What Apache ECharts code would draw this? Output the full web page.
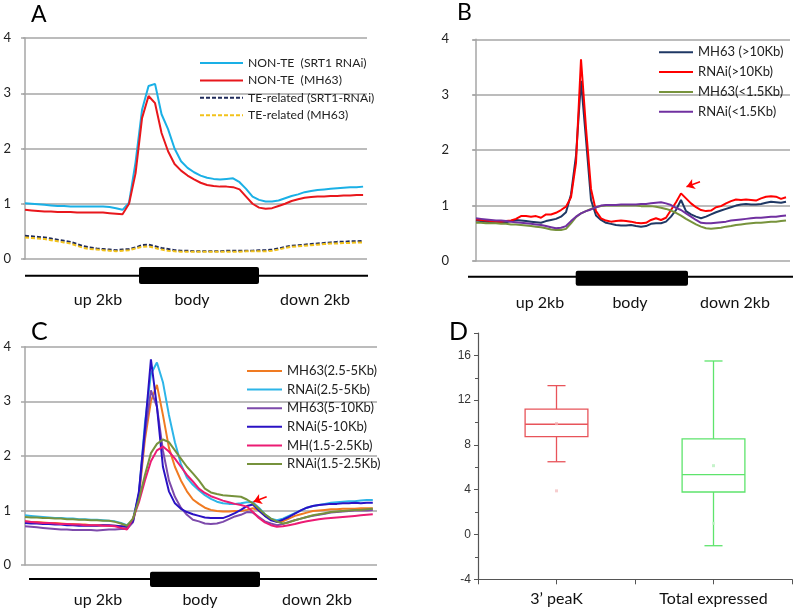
<!DOCTYPE html>
<html><head><meta charset="utf-8">
<script src="https://cdn.jsdelivr.net/npm/echarts@6/dist/echarts.min.js"></script>
<style>html,body{margin:0;padding:0;background:#fff}#c{width:797px;height:612px}</style>
</head><body><div id="c"></div>
<script>
// ---------- Panel A ----------
const namesA = ['NON-TE  (SRT1 RNAi)', 'NON-TE  (MH63)', 'TE-related (SRT1-RNAi)', 'TE-related (MH63)'];
const nonteRnaiA = [1.01,1.00,0.99,0.98,0.97,0.96,0.96,0.95,0.95,0.95,0.95,0.95,0.95,0.94,0.92,0.89,1.02,1.75,2.70,3.13,3.17,2.62,2.35,2.00,1.77,1.65,1.57,1.51,1.47,1.45,1.44,1.45,1.46,1.39,1.27,1.13,1.07,1.04,1.04,1.06,1.10,1.14,1.17,1.21,1.23,1.25,1.26,1.27,1.28,1.29,1.30,1.30,1.31];
const nonteMh63A = [0.89,0.88,0.87,0.86,0.86,0.85,0.85,0.85,0.84,0.84,0.84,0.84,0.84,0.83,0.82,0.81,1.00,1.55,2.55,2.95,2.82,2.28,1.95,1.72,1.60,1.51,1.44,1.38,1.34,1.32,1.31,1.31,1.30,1.26,1.13,1.00,0.93,0.91,0.92,0.96,1.00,1.05,1.08,1.11,1.12,1.13,1.13,1.14,1.14,1.15,1.15,1.16,1.16];
const teRnaiA = [0.42,0.41,0.40,0.39,0.37,0.35,0.33,0.31,0.27,0.23,0.21,0.19,0.18,0.17,0.16,0.17,0.18,0.21,0.25,0.26,0.23,0.20,0.18,0.16,0.15,0.15,0.14,0.14,0.14,0.14,0.14,0.15,0.15,0.15,0.15,0.15,0.16,0.16,0.17,0.19,0.22,0.24,0.25,0.26,0.27,0.28,0.29,0.30,0.31,0.31,0.32,0.32,0.33];
const teMh63A = [0.39,0.38,0.37,0.36,0.34,0.32,0.30,0.28,0.24,0.20,0.18,0.17,0.16,0.15,0.14,0.15,0.16,0.19,0.22,0.23,0.20,0.17,0.15,0.14,0.13,0.13,0.13,0.13,0.13,0.13,0.13,0.13,0.13,0.13,0.14,0.14,0.14,0.14,0.15,0.17,0.20,0.22,0.23,0.24,0.25,0.26,0.27,0.28,0.28,0.29,0.29,0.30,0.30];

// ---------- Panel B ----------
const namesB = ['MH63 (>10Kb)', 'RNAi(>10Kb)', 'MH63(<1.5Kb)', 'RNAi(<1.5Kb)'];
const mh63LongB = [0.73,0.72,0.71,0.70,0.69,0.69,0.70,0.72,0.74,0.73,0.72,0.71,0.70,0.69,0.72,0.74,0.76,0.80,0.88,1.20,1.90,3.25,2.20,1.10,0.82,0.74,0.69,0.67,0.65,0.64,0.64,0.65,0.63,0.62,0.63,0.67,0.68,0.68,0.71,0.80,0.92,1.10,0.90,0.84,0.80,0.77,0.80,0.84,0.88,0.91,0.94,0.97,1.00,1.02,1.03,1.02,1.02,1.03,1.05,1.07,1.06,1.05,1.07];
const rnaiLongB = [0.75,0.74,0.73,0.72,0.71,0.71,0.72,0.73,0.76,0.81,0.81,0.80,0.81,0.78,0.84,0.84,0.87,0.92,0.98,1.15,1.77,3.64,2.40,1.30,0.90,0.77,0.73,0.71,0.72,0.73,0.72,0.71,0.69,0.68,0.69,0.74,0.77,0.74,0.78,0.92,1.06,1.22,1.13,1.04,0.97,0.92,0.90,0.91,0.97,0.99,1.04,1.08,1.11,1.10,1.11,1.10,1.09,1.13,1.16,1.17,1.16,1.12,1.15];
const mh63ShortB = [0.69,0.69,0.68,0.68,0.68,0.67,0.67,0.66,0.66,0.65,0.64,0.63,0.62,0.61,0.59,0.57,0.56,0.56,0.58,0.68,0.79,0.86,0.90,0.94,0.97,0.99,1.00,1.00,1.00,1.00,1.00,1.00,1.00,0.99,0.99,0.99,0.98,0.96,0.94,0.91,0.87,0.82,0.76,0.71,0.66,0.62,0.59,0.58,0.59,0.60,0.62,0.63,0.65,0.66,0.67,0.68,0.69,0.69,0.70,0.71,0.71,0.72,0.73];
const rnaiShortB = [0.77,0.76,0.75,0.74,0.73,0.73,0.72,0.71,0.70,0.69,0.68,0.67,0.66,0.65,0.63,0.61,0.59,0.60,0.63,0.72,0.80,0.86,0.90,0.93,0.97,1.00,1.01,1.01,1.01,1.02,1.02,1.02,1.02,1.03,1.03,1.04,1.05,1.06,1.04,1.01,0.96,0.92,0.86,0.80,0.74,0.69,0.68,0.68,0.69,0.70,0.71,0.73,0.74,0.75,0.76,0.77,0.78,0.78,0.79,0.80,0.80,0.81,0.82];
const arrowB = [[44.8, 1.43], [42.1, 1.34]];

// ---------- Panel C ----------
const namesC = ['MH63(2.5-5Kb)', 'RNAi(2.5-5Kb)', 'MH63(5-10Kb)', 'RNAi(5-10Kb)', 'MH(1.5-2.5Kb)', 'RNAi(1.5-2.5Kb)'];
const mh63MidC = [0.80,0.79,0.79,0.78,0.77,0.77,0.76,0.75,0.75,0.74,0.74,0.73,0.73,0.73,0.72,0.72,0.71,0.70,0.80,1.25,2.30,3.00,3.30,2.75,2.15,1.80,1.55,1.35,1.20,1.12,1.05,1.01,0.99,0.98,0.98,0.99,0.99,1.01,1.04,1.00,0.90,0.84,0.79,0.80,0.85,0.90,0.93,0.96,0.99,1.00,1.01,1.02,1.02,1.03,1.03,1.03,1.04,1.04,1.04];
const rnaiMidC = [0.91,0.90,0.89,0.88,0.87,0.86,0.86,0.85,0.85,0.84,0.84,0.83,0.83,0.82,0.81,0.80,0.77,0.73,0.82,1.30,2.60,3.50,3.71,3.35,2.75,2.25,1.85,1.60,1.47,1.37,1.28,1.21,1.16,1.13,1.12,1.12,1.13,1.15,1.15,1.05,0.93,0.85,0.82,0.85,0.90,0.95,1.00,1.05,1.08,1.10,1.12,1.14,1.15,1.16,1.17,1.17,1.18,1.19,1.19];
const mh63LongC = [0.71,0.70,0.69,0.68,0.67,0.66,0.65,0.65,0.64,0.64,0.64,0.64,0.63,0.64,0.65,0.65,0.66,0.66,0.78,1.30,2.40,3.20,2.90,2.10,1.55,1.25,1.05,0.92,0.83,0.80,0.76,0.75,0.76,0.79,0.84,0.89,0.92,0.97,0.96,0.88,0.80,0.76,0.73,0.75,0.79,0.82,0.85,0.88,0.90,0.92,0.94,0.96,0.97,0.98,0.99,1.00,1.00,1.00,1.01];
const rnaiLongC = [0.77,0.76,0.76,0.75,0.75,0.74,0.74,0.73,0.73,0.72,0.72,0.72,0.72,0.73,0.73,0.72,0.71,0.70,0.80,1.35,2.50,3.77,2.90,1.80,1.35,1.13,1.03,0.97,0.93,0.90,0.87,0.86,0.86,0.86,0.90,0.95,1.01,1.08,1.11,1.00,0.90,0.82,0.79,0.83,0.88,0.94,1.00,1.05,1.08,1.10,1.11,1.12,1.12,1.13,1.13,1.14,1.13,1.14,1.14];
const mhShortC = [0.80,0.79,0.78,0.77,0.77,0.76,0.75,0.75,0.74,0.74,0.73,0.73,0.73,0.72,0.72,0.71,0.68,0.65,0.85,1.15,1.55,1.90,2.10,2.17,2.08,1.95,1.80,1.65,1.53,1.40,1.32,1.26,1.22,1.18,1.15,1.12,1.10,1.07,0.97,0.86,0.78,0.73,0.70,0.71,0.73,0.75,0.78,0.80,0.82,0.84,0.85,0.86,0.87,0.88,0.89,0.90,0.91,0.92,0.93];
const rnaiShortC = [0.88,0.87,0.87,0.86,0.86,0.85,0.85,0.84,0.84,0.83,0.83,0.82,0.82,0.81,0.81,0.79,0.76,0.72,0.85,1.20,1.65,2.05,2.22,2.30,2.25,2.10,1.95,1.80,1.68,1.55,1.40,1.33,1.30,1.28,1.27,1.26,1.25,1.20,1.13,1.03,0.93,0.85,0.80,0.76,0.78,0.82,0.85,0.88,0.91,0.93,0.95,0.97,0.98,0.99,1.00,1.01,1.01,1.02,1.03];
const arrowC = [[40.3, 1.25], [38.1, 1.16]];

// ---------- Panel D ----------
const axisLabelsD = ['', '3\u2019 peaK', '', 'Total expressed', ''];
const boxNames = ['3\u2019 peaK', 'Total expressed'];
const boxMin = [6.5, -1.0];
const boxQ1 = [8.75, 3.8];
const boxMedian = [9.85, 5.35];
const boxQ3 = [11.2, 8.55];
const boxMax = [13.3, 15.5];
const boxMean = [9.9, 6.15];
const outlierNames = ['3\u2019 peaK', 'Total expressed'];
const outlierValues = [3.9, 1.0];

const FONT = 'Lato, "Open Sans", sans-serif';
const grayAxis = '#A6A6A6';

function lineS(name, arr, color, idx, dash, extra) {
  return Object.assign({
    type: 'line', name: name, xAxisIndex: idx, yAxisIndex: idx,
    data: arr.map((v, i) => [i, v]), symbol: 'none', showSymbol: false,
    smooth: false, animation: false, silent: true,
    lineStyle: { color: color, width: 2, type: dash || 'solid' },
    itemStyle: { color: color }, emphasis: { disabled: true }
  }, extra || {});
}
function arrowMark(pts) {
  return {
    silent: true, symbol: ['none', 'arrow'], symbolSize: 8, animation: false,
    label: { show: false }, emphasis: { disabled: true },
    lineStyle: { color: '#FF0000', width: 1.5, type: 'solid' },
    data: [[{ coord: pts[0] }, { coord: pts[1] }]]
  };
}
function yAxisLine(idx, margin) {
  return {
    type: 'value', gridIndex: idx, min: 0, max: 4, interval: 1,
    axisLine: { show: true, lineStyle: { color: grayAxis, width: 1.5 } },
    axisTick: { show: true, length: 4, lineStyle: { color: grayAxis, width: 1.5 } },
    splitLine: { show: true, lineStyle: { color: grayAxis, width: 1.5 } },
    axisLabel: { fontSize: 13, color: '#222', fontFamily: FONT, margin: margin }
  };
}
function legendOf(names, left, top, itemWidth, gap, fs) {
  return {
    data: names, orient: 'vertical', left: left, top: top, padding: 0,
    itemWidth: itemWidth, itemHeight: 14, itemGap: gap, selectedMode: false,
    itemStyle: { opacity: 0 },
    textStyle: { fontSize: fs, lineHeight: 14, color: '#222', fontFamily: FONT }
  };
}

const boxData = boxNames.map((n, k) => [axisLabelsD.indexOf(n), boxMin[k], boxQ1[k], boxMedian[k], boxQ3[k], boxMax[k]]);
const boxColors = ['#E8545A', '#5EE46C'];
const meanData = boxNames.map((n, k) => ({ value: [axisLabelsD.indexOf(n), boxMean[k]], itemStyle: { color: k ? '#B8F0BE' : '#F2AFB2' } }));
const outData = outlierNames.map((n, k) => ({ value: [axisLabelsD.indexOf(n), outlierValues[k]], itemStyle: { color: k ? '#C8F4CC' : '#F4C0C2' } }));

function gene(x1, x2, bx1, bx2, yLine, yTop, yBot, labX, labY) {
  return [
    { type: 'line', silent: true, shape: { x1: x1, y1: yLine, x2: x2, y2: yLine }, style: { stroke: '#000', lineWidth: 2 } },
    { type: 'rect', silent: true, shape: { x: bx1, y: yTop, width: bx2 - bx1, height: yBot - yTop, r: 2 }, style: { fill: '#000' } },
    { type: 'text', silent: true, x: labX[0], y: labY, style: { text: 'up 2kb', align: 'center', verticalAlign: 'middle', font: '16px ' + FONT, fill: '#111' } },
    { type: 'text', silent: true, x: labX[1], y: labY, style: { text: 'body', align: 'center', verticalAlign: 'middle', font: '16px ' + FONT, fill: '#111' } },
    { type: 'text', silent: true, x: labX[2], y: labY, style: { text: 'down 2kb', align: 'center', verticalAlign: 'middle', font: '16px ' + FONT, fill: '#111' } }
  ];
}
function panelLetter(t, x, y, size) {
  return { type: 'text', silent: true, x: x, y: y, style: { text: t, font: size + 'px ' + FONT, fill: '#000', verticalAlign: 'top' } };
}

const option = {
  animation: false,
  backgroundColor: '#fff',
  textStyle: { fontFamily: FONT },
  grid: [
    { left: 23, top: 38, width: 344, height: 221 },
    { left: 473, top: 39.3, width: 317, height: 221.7 },
    { left: 25, top: 346.7, width: 352, height: 218.3 },
    { left: 478, top: 333, width: 314, height: 246.3 }
  ],
  xAxis: [
    { type: 'value', gridIndex: 0, min: -0.31, max: 52.6, show: false },
    { type: 'value', gridIndex: 1, min: -0.6, max: 62.8, show: false },
    { type: 'value', gridIndex: 2, min: 0, max: 58.7, show: false },
    { type: 'value', gridIndex: 3, min: 0, max: axisLabelsD.length - 1, interval: 1,
      axisLine: { show: true, onZero: false, lineStyle: { color: '#555', width: 1.2 } },
      axisTick: { show: true, length: 5, lineStyle: { color: '#555' } },
      splitLine: { show: false },
      axisLabel: { fontSize: 16, color: '#111', fontFamily: FONT, margin: 12, formatter: v => axisLabelsD[v] || '' } }
  ],
  yAxis: [
    yAxisLine(0, 12),
    yAxisLine(1, 24),
    yAxisLine(2, 14),
    { type: 'value', gridIndex: 3, min: -4, max: 18, interval: 4,
      axisLine: { show: true, lineStyle: { color: '#555', width: 1.2 } },
      axisTick: { show: true, length: 4, lineStyle: { color: '#555' } },
      minorTick: { show: true, splitNumber: 2, length: 3, lineStyle: { color: '#555' } },
      splitLine: { show: false },
      axisLabel: { fontSize: 12, color: '#333', fontFamily: '"Liberation Sans", Arial, sans-serif', margin: 7, showMaxLabel: false } }
  ],
  legend: [
    legendOf(namesA, 199, 56, 43, 3.4, 12.2),
    legendOf(namesB, 658, 45.3, 34, 5.8, 13),
    legendOf(namesC, 246, 364, 35, 4.6, 13)
  ],
  series: [
    lineS(namesA[0], nonteRnaiA, '#1AB0E6', 0),
    lineS(namesA[1], nonteMh63A, '#E8171C', 0),
    lineS(namesA[2], teRnaiA, '#1F2A5A', 0, [4, 2]),
    lineS(namesA[3], teMh63A, '#F2C21B', 0, [4, 2]),

    lineS(namesB[0], mh63LongB, '#1F3864', 1),
    lineS(namesB[1], rnaiLongB, '#FF0000', 1, null, { markLine: arrowMark(arrowB) }),
    lineS(namesB[2], mh63ShortB, '#77933C', 1),
    lineS(namesB[3], rnaiShortB, '#7030A0', 1),

    lineS(namesC[0], mh63MidC, '#F07B22', 2),
    lineS(namesC[1], rnaiMidC, '#2DB5E8', 2),
    lineS(namesC[2], mh63LongC, '#7D4AAB', 2),
    lineS(namesC[3], rnaiLongC, '#2A12C4', 2),
    lineS(namesC[4], mhShortC, '#EC1B73', 2),
    lineS(namesC[5], rnaiShortC, '#76923C', 2, null, { markLine: arrowMark(arrowC) }),

    {
      type: 'custom', xAxisIndex: 3, yAxisIndex: 3, silent: true, animation: false,
      encode: { x: 0, y: [1, 2, 3, 4, 5] },
      data: boxData,
      renderItem: function (params, api) {
        const x = api.value(0);
        const pMin = api.coord([x, api.value(1)]);
        const pQ1 = api.coord([x, api.value(2)]);
        const pMed = api.coord([x, api.value(3)]);
        const pQ3 = api.coord([x, api.value(4)]);
        const pMax = api.coord([x, api.value(5)]);
        const w = api.size([0.8, 0])[0];
        const cw = api.size([0.23, 0])[0];
        const c = boxColors[params.dataIndex];
        const st = { stroke: c, lineWidth: 1.3, fill: null };
        const cx = pMed[0];
        return { type: 'group', children: [
          { type: 'rect', shape: { x: cx - w / 2, y: pQ3[1], width: w, height: pQ1[1] - pQ3[1] }, style: { stroke: c, fill: null, lineWidth: 1.3 } },
          { type: 'line', shape: { x1: cx - w / 2, y1: pMed[1], x2: cx + w / 2, y2: pMed[1] }, style: st },
          { type: 'line', shape: { x1: cx, y1: pQ3[1], x2: cx, y2: pMax[1] }, style: st },
          { type: 'line', shape: { x1: cx, y1: pQ1[1], x2: cx, y2: pMin[1] }, style: st },
          { type: 'line', shape: { x1: cx - cw / 2, y1: pMax[1], x2: cx + cw / 2, y2: pMax[1] }, style: st },
          { type: 'line', shape: { x1: cx - cw / 2, y1: pMin[1], x2: cx + cw / 2, y2: pMin[1] }, style: st }
        ] };
      }
    },
    { type: 'scatter', xAxisIndex: 3, yAxisIndex: 3, symbol: 'rect', symbolSize: 3, silent: true, animation: false, data: meanData.concat(outData) }
  ],
  graphic: [].concat(
    gene(25, 368, 139, 259, 275.7, 267, 284, [98, 192, 315], 300),
    gene(468, 793, 575.7, 688, 276.7, 270.7, 285.7, [540, 630, 735], 303),
    gene(29, 377, 150, 260, 579, 571.7, 587, [98, 200, 317], 600),
    [panelLetter('A', 31, 3, 23), panelLetter('B', 457, 1, 23), panelLetter('C', 31, 319, 25), panelLetter('D', 449, 319, 25)]
  )
};

const chart = echarts.init(document.getElementById('c'), null, { renderer: 'canvas' });
chart.setOption(option);
</script>
</body></html>
